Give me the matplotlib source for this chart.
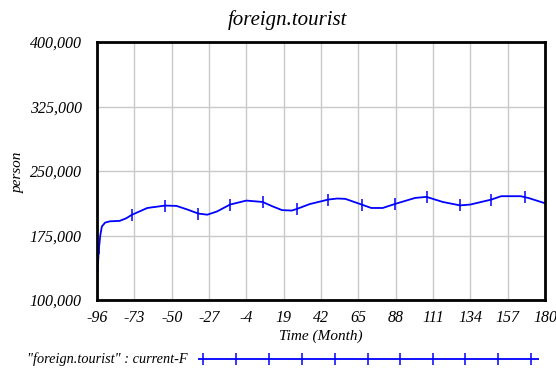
import matplotlib
matplotlib.use("Agg")
import matplotlib.pyplot as plt

# series (Time in months, persons)
time = [-96, -95.5, -94.8, -94, -93, -91, -88, -82, -78, -74.6, -65, -54, -47, -40,
        -33.6, -28, -22, -14, -4, 6, 12, 18, 24, 27, 35, 46.5, 52, 57, 67, 73, 80,
        87.6, 100, 107, 117, 127.7, 134, 147, 153, 165, 170, 180]
tourist = [117000, 140000, 160000, 175000, 185500, 190000, 191500, 192000, 195000,
           199000, 207000, 209800, 209400, 205000, 200500, 199200, 203000, 211000,
           215600, 214000, 209000, 204500, 204000, 205800, 211500, 216800, 218000,
           217600, 211000, 207000, 207000, 211700, 218700, 219900, 214000, 210000,
           211000, 216800, 220700, 220700, 218500, 212500]

# marker ticks drawn along the line
mark_t = [-94.8, -74.6, -54, -33.6, -14, 6, 27, 46.5, 67, 87.6, 107, 127.7, 147, 167.5]
mark_v = [160000, 199000, 209800, 200500, 211000, 214000, 205800, 216800, 211000,
          211700, 219900, 210000, 216800, 219600]

x_ticks = [-96, -73, -50, -27, -4, 19, 42, 65, 88, 111, 134, 157, 180]
y_ticks = [100000, 175000, 250000, 325000, 400000]

plt.rcParams["font.family"] = "Liberation Serif"
plt.rcParams["axes.unicode_minus"] = False

fig = plt.figure(figsize=(5.56, 3.69), dpi=100)
ax = fig.add_axes([97 / 556, 69 / 369, 448 / 556, 258 / 369])

line_col = "#0000ff"
ax.plot(time, tourist, color=line_col, lw=1.3)
ax.plot(mark_t, mark_v, ls="none", marker="|", ms=9, mew=1.1, color=line_col)

ax.set_xlim(-96, 180)
ax.set_ylim(100000, 400000)
ax.set_xticks(x_ticks)
ax.set_xticklabels([str(t) for t in x_ticks], style="italic", fontsize=11.5)
ax.set_yticks(y_ticks)
ax.set_yticklabels([f"{v:,}" for v in y_ticks], style="italic", fontsize=11.5)
ax.tick_params(length=0, pad=7)
ax.tick_params(axis="y", pad=11)
ax.grid(True, color="#c8c8c8", lw=1)
ax.set_axisbelow(True)
for s in ax.spines.values():
    s.set_linewidth(2)
    s.set_color("black")

ax.set_xlabel("Time (Month)", style="italic", fontsize=11, labelpad=3)
fig.text(18 / 556, 1 - 172 / 369, "person", rotation=90, style="italic",
         fontsize=11, ha="center", va="center")
fig.text(287 / 556, 1 - 20 / 369, "foreign.tourist", style="italic",
         fontsize=15, ha="center", va="center")

# legend row at the bottom
fig.text(188 / 556, 1 - 359 / 369, '"foreign.tourist" : current-F', style="italic",
         fontsize=10.3, ha="right", va="center")
lax = fig.add_axes([198 / 556, 1 - 369 / 369, 341 / 556, 20 / 369])
lax.set_xlim(198, 539)
lax.set_ylim(-10, 10)
lax.axis("off")
leg_x = [198, 539]
leg_ticks = [203, 236, 269, 302, 335, 368, 400, 433, 465, 498, 531]
lax.plot(leg_x, [0, 0], color=line_col, lw=1.3)
lax.plot(leg_ticks, [0] * len(leg_ticks), ls="none", marker="|", ms=9, mew=1.1,
         color=line_col)

fig.savefig("out.png", dpi=100)
